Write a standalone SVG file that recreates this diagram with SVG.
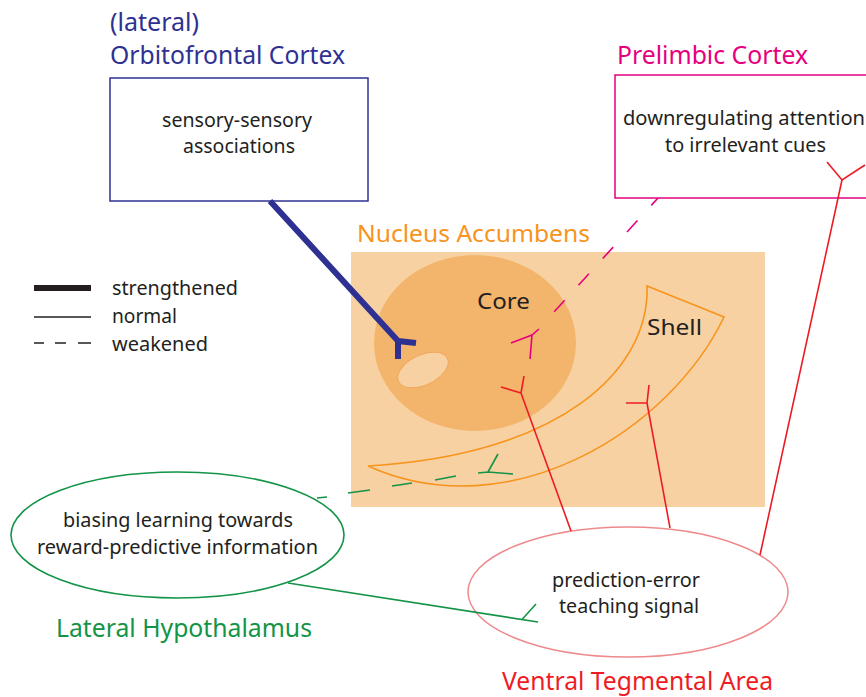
<svg xmlns="http://www.w3.org/2000/svg" width="866" height="697" viewBox="0 0 866 697">
<defs>
<style>
text { font-family: "Noto Sans", "Open Sans", "Liberation Sans", sans-serif; }
.body { font-size: 19px; fill: #231f20; }
.title { font-size: 25px; }
.lbl { font-size: 22px; fill: #231f20; }
.blue { fill: #2e3192; }
.mag { fill: #e6007e; }
.orange { fill: #f7941d; }
.green { fill: #139447; }
.red { fill: #ed1c24; }
.ln { fill: none; stroke-width: 1.6; stroke-linecap: butt; }
</style>
</defs>
<rect width="866" height="697" fill="#ffffff"/>

<g id="legend">
  <line x1="34" y1="288" x2="91" y2="288" stroke="#231f20" stroke-width="6"/>
  <line x1="34" y1="317" x2="91" y2="317" stroke="#231f20" stroke-width="1.5"/>
  <path d="M34,343 H44 M55,343 H66 M78,343 H91" stroke="#231f20" stroke-width="1.5" fill="none"/>
  <text class="body" x="112" y="295" textLength="126" lengthAdjust="spacingAndGlyphs">strengthened</text>
  <text class="body" x="112" y="323" textLength="65" lengthAdjust="spacingAndGlyphs">normal</text>
  <text class="body" x="112" y="351" textLength="96" lengthAdjust="spacingAndGlyphs">weakened</text>
</g>

<g id="ofc">
  <text class="title blue" x="110" y="31" textLength="89" lengthAdjust="spacingAndGlyphs">(lateral)</text>
  <text class="title blue" x="110" y="64" textLength="235" lengthAdjust="spacingAndGlyphs">Orbitofrontal Cortex</text>
  <rect x="110" y="78" width="258" height="123" fill="#ffffff" stroke="#2e3192" stroke-width="1.5"/>
  <text class="body" x="162" y="127" textLength="150" lengthAdjust="spacingAndGlyphs">sensory-sensory</text>
  <text class="body" x="183" y="153" textLength="112" lengthAdjust="spacingAndGlyphs">associations</text>
</g>

<g id="prelimbic">
  <text class="title mag" x="617" y="64" textLength="191" lengthAdjust="spacingAndGlyphs">Prelimbic Cortex</text>
  <rect x="615" y="75" width="270" height="123" fill="#ffffff" stroke="#e6007e" stroke-width="1.5"/>
  <text class="body" x="623" y="125" textLength="242" lengthAdjust="spacingAndGlyphs">downregulating attention</text>
  <text class="body" x="665" y="152" textLength="161" lengthAdjust="spacingAndGlyphs">to irrelevant cues</text>
</g>

<g id="nucleus-accumbens">
  <text class="orange" font-size="23" x="357" y="242" textLength="233" lengthAdjust="spacingAndGlyphs">Nucleus Accumbens</text>
  <rect x="351" y="252" width="414" height="255" fill="#f8d1a3"/>
</g>

<g id="core">
  <ellipse cx="475" cy="343" rx="101" ry="88" fill="#f3b56b"/>
  <ellipse cx="423" cy="370" rx="27" ry="15" transform="rotate(-25 423 370)" fill="#f8d1a3" stroke="#f2a65a" stroke-width="1"/>
  <text class="lbl" x="477" y="309" textLength="53" lengthAdjust="spacingAndGlyphs">Core</text>
</g>

<g id="shell">
  <path d="M647,286 C650,370 560,455 368,466 C510,530 670,430 724,317 Z" fill="#f8d1a3" stroke="#f7941d" stroke-width="1.6" stroke-linejoin="miter"/>
  <text class="lbl" x="647" y="335" textLength="55" lengthAdjust="spacingAndGlyphs">Shell</text>
</g>

<g id="lateral-hypothalamus">
  <ellipse cx="177.5" cy="535" rx="166.5" ry="63" fill="#ffffff" stroke="#139447" stroke-width="1.6"/>
  <text class="body" x="63" y="527" textLength="230" lengthAdjust="spacingAndGlyphs">biasing learning towards</text>
  <text class="body" x="37" y="554" textLength="281" lengthAdjust="spacingAndGlyphs">reward-predictive information</text>
  <text class="title green" x="56" y="637" textLength="256" lengthAdjust="spacingAndGlyphs">Lateral Hypothalamus</text>
</g>

<g id="vta">
  <ellipse cx="628" cy="592" rx="160" ry="65" fill="#ffffff" stroke="#ee8a8c" stroke-width="1.5"/>
  <text class="body" x="552" y="587" textLength="148" lengthAdjust="spacingAndGlyphs">prediction-error</text>
  <text class="body" x="559" y="613" textLength="140" lengthAdjust="spacingAndGlyphs">teaching signal</text>
  <text class="title red" x="502" y="690" textLength="271" lengthAdjust="spacingAndGlyphs">Ventral Tegmental Area</text>
</g>

<g id="connectors">
  <path d="M270,201 L398,341 M398,341 L416,343 M398,341 L398,359" fill="none" stroke="#2e3192" stroke-width="6" stroke-linejoin="miter"/>
  <path class="ln" d="M658,198 L554,312" stroke="#e6007e" stroke-dasharray="15.5 20.5" stroke-dashoffset="5.5"/>
  <path class="ln" d="M539,329 L532,335 L511,343 M532,335 L530,359" stroke="#e6007e"/>
  <path class="ln" d="M524,376 L521,393 L501,387 M521,393 L571,531" stroke="#ed1c24"/>
  <path class="ln" d="M649,385 L647,403 L626,403 M647,403 L670,528" stroke="#ed1c24"/>
  <path class="ln" d="M827,162 L842,180 L865,165 M842,180 L760,555" stroke="#ed1c24"/>
  <path class="ln" d="M317,498 L327,497 M348,493 L370,490 M392,486 L412,483 M435,480 L456,476" stroke="#139447"/>
  <path class="ln" d="M478,473 L488,472 L513,474 M488,472 L498,454" stroke="#139447"/>
  <path class="ln" d="M288,583 L538,622 M522,619.5 L536,604" stroke="#139447"/>
</g>
</svg>
